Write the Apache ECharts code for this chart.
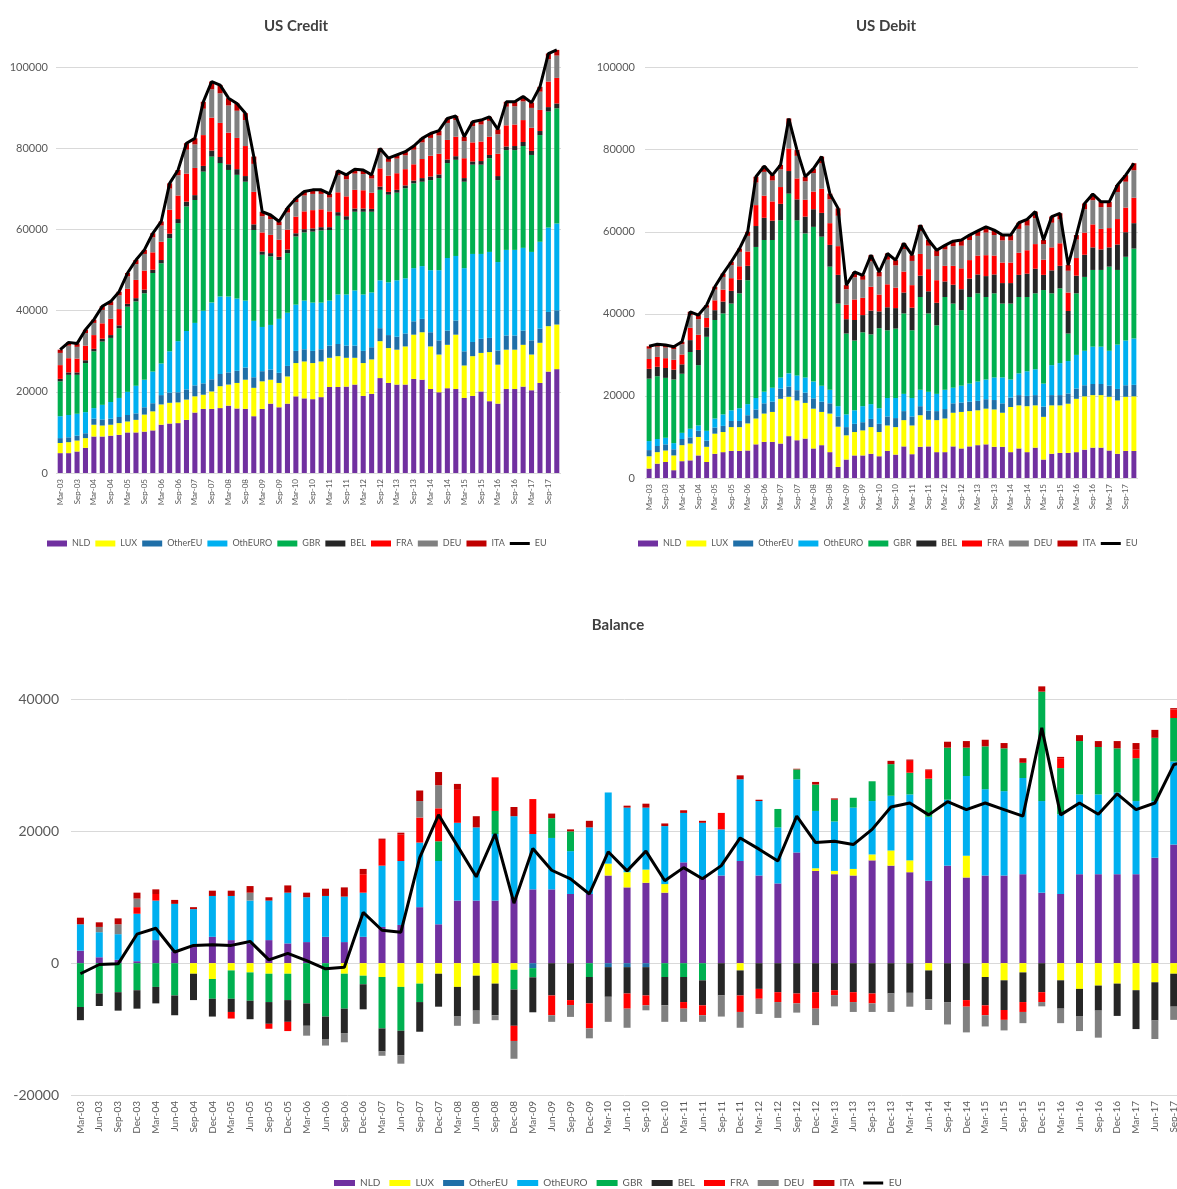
<!DOCTYPE html>
<html>
<head>
<meta charset="utf-8">
<title>US Credit / US Debit / Balance</title>
<script src="https://cdn.jsdelivr.net/npm/echarts/dist/echarts.min.js"></script>
<style>
  html, body { margin: 0; padding: 0; background: #fff; }
  #main { width: 1177px; height: 1189px; }
</style>
</head>
<body>
<div id="main"></div>
<script>
// quarters, Mar-03 .. Dec-17
var quarters = ['Mar-03','Jun-03','Sep-03','Dec-03','Mar-04','Jun-04','Sep-04','Dec-04','Mar-05','Jun-05',
  'Sep-05','Dec-05','Mar-06','Jun-06','Sep-06','Dec-06','Mar-07','Jun-07','Sep-07','Dec-07',
  'Mar-08','Jun-08','Sep-08','Dec-08','Mar-09','Jun-09','Sep-09','Dec-09','Mar-10','Jun-10',
  'Sep-10','Dec-10','Mar-11','Jun-11','Sep-11','Dec-11','Mar-12','Jun-12','Sep-12','Dec-12',
  'Mar-13','Jun-13','Sep-13','Dec-13','Mar-14','Jun-14','Sep-14','Dec-14','Mar-15','Jun-15',
  'Sep-15','Dec-15','Mar-16','Jun-16','Sep-16','Dec-16','Mar-17','Jun-17','Sep-17','Dec-17'];

// ---- US Credit ----
var credNLD = [4900,4900,5300,6200,9000,9000,9200,9400,10000,10000,
  10200,10500,11900,12200,12300,13100,14900,15800,15800,16000,
  16600,15900,15800,14000,15800,17100,16200,17100,18900,18400,
  18200,18700,21200,21200,21300,21800,19000,19500,23400,22200,
  21800,21800,23200,23000,20700,19900,20900,20700,18500,19000,
  20100,17700,17100,20700,20700,21300,20400,22200,25000,25600];
var credLUX = [2500,2700,2700,2400,2900,2700,2700,2900,2700,3100,
  4200,4700,5000,5100,5100,5000,4000,3500,4300,5400,
  5200,6300,7200,7000,6800,5900,6000,6700,8200,9100,
  8900,8800,7200,7600,7100,6600,8100,8500,9100,8600,
  8600,9400,10900,11700,10500,9300,10700,13400,8000,9800,
  9500,12100,9600,9700,9700,10300,8800,9900,11200,11000];
var credOtherEU = [1200,1200,1200,1200,1500,1500,1500,1500,1600,1600,
  1800,2000,2300,2500,2500,2500,2700,2800,3000,3000,
  3000,3000,3000,2600,2500,2500,2500,2600,3000,3000,
  3000,3000,3000,3000,3000,3000,3000,3000,3200,3200,
  3200,3200,3300,3300,3500,3500,3500,3500,3500,3500,
  3500,3500,3500,3500,3500,3500,3500,3500,3500,3500];
var credOthEURO = [5400,5500,5400,5200,2600,3600,4100,4700,5700,6800,
  6800,7800,7800,10200,12600,14400,15400,17900,18900,19100,
  18700,17800,16500,13900,10900,11000,13300,13100,11400,12000,
  11900,11500,11100,12200,12600,13600,13900,13500,11800,13000,
  13900,13600,13100,13000,15300,17300,17900,15900,20500,21700,
  20900,21200,21800,21100,21100,20400,21800,21400,20800,21400];
var credGBR = [8600,9900,9600,12100,14000,15600,15800,17200,21000,20800,
  21300,24300,24700,27900,29100,30700,30300,34300,36000,32900,
  31200,30500,29300,22400,17800,16900,14500,14700,16800,16800,
  17500,17800,17400,19400,18400,19400,20400,19900,22300,21600,
  21600,22200,20900,20800,22200,22700,23400,23700,21300,22000,
  22000,23100,20200,24600,24600,25100,23900,26300,28600,28400];
var credBEL = [600,600,600,700,600,700,700,700,700,800,
  900,800,800,1100,1000,1200,1200,1400,1500,1500,
  1400,1400,1400,1400,800,800,800,900,800,800,
  800,800,700,900,900,800,800,700,800,700,
  700,700,700,900,900,900,900,900,900,800,
  900,800,1000,900,1000,1000,1000,1000,1100,1200];
var credFRA = [3400,3500,3400,3600,3400,3800,4000,4000,3700,4500,
  4700,4300,4500,5900,5800,6900,6700,7600,8100,8400,
  7800,7700,7400,8000,4700,4500,4200,4900,4100,4400,
  4500,4400,3900,4900,4900,4600,4500,4000,4500,4000,
  4100,4000,4000,4700,5100,5100,4800,4800,4900,4700,
  4800,4500,5500,5200,5300,5400,5700,5200,6300,6300];
var credDEU = [3000,3100,2900,3100,3000,3300,3400,3400,3100,3900,
  4100,3700,4000,5200,5000,5900,5800,6500,7000,7300,
  6700,6700,6400,6900,4000,3900,3600,4200,3600,3900,
  4000,3800,3400,4200,4200,4000,4000,3500,3900,3400,
  3600,3400,3600,4100,4400,4500,4200,4100,4200,4000,
  4200,3900,4800,4600,4500,4600,4900,4500,5500,5500];
var credITA = [800,800,800,800,800,900,900,900,800,1000,
  1000,1000,1000,1300,1300,1600,1500,1700,1900,2000,
  1800,1800,1700,1800,1100,1000,900,1100,900,1000,
  1000,1000,900,1100,1100,1100,1000,900,1000,900,
  900,900,900,1000,1100,1200,1100,1000,1100,1100,
  1100,1000,1200,1200,1100,1200,1300,1200,1400,1400];
var credEU = [30400,32200,31900,35300,37800,41100,42300,44700,49300,52500,
  55000,59100,62000,71400,74700,81300,82500,91500,96500,95600,
  92400,91100,88700,78000,64400,63600,62000,65300,67700,69400,
  69800,69800,68800,74500,73500,74900,74700,73500,80000,77600,
  78400,79200,80600,82500,83700,84400,87400,88000,82900,86600,
  87000,87800,84700,91500,91500,92800,91300,95200,103400,104300];

// ---- US Debit ----
var debNLD = [2300,3500,3900,1900,4100,4300,5500,3900,5900,6300,
  6600,6600,6700,8200,8800,8800,8400,10200,9200,9600,
  7200,8000,6300,2700,4500,5500,5500,5900,5300,6600,
  5700,7700,5800,7600,7700,6300,6300,7700,7200,7700,
  8000,8200,7600,7600,6300,7200,6300,7400,4500,5900,
  6100,6100,6300,6900,7400,7400,6700,5900,6600,6600];
var debLUX = [3000,2800,2800,3600,3900,4100,4500,3700,4900,4900,
  5800,5800,6600,6300,6900,7300,10900,9600,9700,8700,
  9700,8100,9400,9800,5900,5700,6100,6500,5900,6200,
  6700,6400,7000,7700,6500,7800,8200,8200,8900,8600,
  8500,8700,9100,8300,11000,10500,11200,10300,10400,11800,
  11600,12000,13000,13000,12800,12800,13100,13000,13200,13300];
var debOtherEU = [1500,1500,1500,1500,1500,1500,1500,1500,1500,1500,
  1500,1500,2000,2200,2500,2500,2500,2500,2500,2500,
  2500,2500,2500,2500,2000,2000,2000,2000,2000,2200,
  2200,2200,2200,2200,2200,2200,2300,2300,2300,2300,
  2300,2300,2300,2300,2300,2500,2500,2500,2500,2500,
  2500,2500,2500,2700,2700,2700,2700,2800,2800,2800];
var debOthEURO = [2200,1700,1600,1500,1500,2100,1300,2400,2200,2800,
  2600,3100,2700,2800,2800,3400,2700,3200,3600,3700,
  4100,3900,3300,2500,3100,3300,3900,3600,3800,4500,
  4900,4200,4500,4000,4600,4200,4700,3800,4100,4400,
  4700,4800,5500,6300,4400,5300,6000,6300,5600,7300,
  7800,7900,8200,8400,9100,9100,8500,10800,10900,11300];
var debGBR = [15200,15300,14600,15500,14400,18700,14700,22900,24000,24600,
  26000,28000,30200,36800,37000,36000,38300,43800,37800,35100,
  37700,36300,30000,25000,19700,17000,18000,17000,19500,16500,
  16900,19600,16500,22600,19100,16700,22600,20500,18400,21100,
  21500,20100,20500,18000,18500,18600,18100,18500,22800,17500,
  18200,6700,15000,18000,18700,18700,20500,18200,20400,21900];
var debBEL = [2400,2300,2400,2400,2300,2900,3700,2300,2400,2900,
  3100,3300,3500,5100,5400,4700,4000,5500,5100,4100,
  4300,5800,5300,7000,3500,5000,4200,5800,4100,5600,
  5000,5100,5500,5200,5400,5500,3800,4600,5100,4500,
  4600,5100,4600,5000,5000,5400,5700,6000,3700,5600,
  5500,5500,4300,5400,5500,5000,4700,6200,6000,6200];
var debFRA = [2400,2400,2400,2400,2400,3000,3700,2300,2400,2900,
  3100,3300,3500,5100,5400,4700,4100,5500,5100,4100,
  4300,5900,5300,7000,3500,5000,4200,5800,4100,5600,
  5000,5100,5500,5300,5400,5500,3800,4600,5100,4500,
  4600,5100,4600,5000,5000,5400,5700,6000,3700,5600,
  5500,4500,4300,5400,5600,5000,4700,6200,6000,6200];
var debDEU = [2500,2500,2600,2600,2500,3100,3800,2500,2600,3100,
  3200,3500,3800,5500,5800,5100,4300,5800,5500,4500,
  4500,6200,5800,7400,3800,5400,4400,6200,4400,6000,
  5400,5500,5900,5600,5700,5900,4000,4800,5500,4900,
  4800,5500,5000,5400,5400,5800,6000,6300,3800,6000,
  5800,5300,4500,5700,5900,5300,5100,6600,6300,6700];
var debITA = [600,600,600,600,600,800,1000,600,700,800,
  800,800,1000,1400,1400,1300,1100,1500,1400,1100,
  1100,1600,1400,1800,1000,1300,1100,1500,1100,1500,
  1300,1400,1400,1400,1400,1400,1000,1200,1400,1200,
  1200,1400,1200,1300,1300,1500,1500,1600,1000,1500,
  1500,1400,1100,1400,1500,1300,1300,1700,1600,1700];
var debEU = [32100,32600,32400,32000,33200,40500,39700,42100,46600,49800,
  52700,55900,60000,73400,76000,73800,76300,87600,79900,73400,
  75400,78300,69300,65700,47000,50200,49400,54300,50200,54700,
  53100,57200,54300,61600,58000,55500,56700,57700,58000,59200,
  60200,61200,60400,59200,59200,62200,63000,64900,58000,63700,
  64500,51900,59200,66900,69200,67300,67300,71400,73800,76700];

// ---- Balance ----
var balNLD = [1900,900,500,300,3500,1800,2500,4000,3500,3000,
  3500,3000,3200,4000,3200,4000,5500,5800,8500,5900,
  9500,9500,9500,10000,11200,11200,10500,10500,13300,11500,
  12200,10700,15300,13000,13300,15500,13300,12100,16800,14000,
  13500,13300,15600,14800,13800,12500,14800,13000,13300,13300,
  13500,10700,10500,13500,13500,13500,13500,16000,18000,18500];
var balLUX = [0,0,0,0,0,0,-1600,-2400,-1100,-1400,
  -1600,-1600,0,0,-1600,-1900,-2100,-3600,-3100,-1600,
  -3600,-1900,-3100,-1000,0,0,0,0,1800,2300,
  2000,1300,0,0,0,-1100,0,0,0,400,
  500,1000,900,2300,1800,-1100,0,3300,-2100,-2600,
  -1400,0,-2600,-3900,-3400,-3100,-4100,-2900,-1600,-1500];
var balOtherEU = [0,0,0,0,0,0,0,0,0,0,
  0,0,0,0,0,0,0,0,0,0,
  0,0,0,0,-750,0,0,0,-600,-600,
  -600,0,0,0,0,0,0,0,0,0,
  0,0,0,0,0,0,0,0,0,0,
  0,0,0,0,0,0,0,0,0,0];
var balOthEURO = [4000,3800,3900,7200,6000,7200,5700,6200,6700,6500,
  6000,7700,6800,6200,6900,6700,9300,9700,9800,9600,
  11800,11100,10100,12300,8400,7800,6500,10100,10800,9800,
  9400,8800,7500,8300,7000,12400,11300,8500,11100,8700,
  7500,9300,8100,8300,10000,9700,10000,12100,13100,12800,
  14600,13900,12100,12100,12100,12400,11100,8600,12600,11000];
var balGBR = [-6650,-4600,-4400,-4100,-3600,-4900,0,-3000,-4300,-4300,
  -4300,-4000,-6100,-8100,-5300,-1300,-7800,-6650,-2800,3000,
  0,0,3500,-3000,-1400,3000,3000,-2100,0,0,
  0,-2100,-2100,-2600,0,0,0,2800,1500,4000,
  3300,1500,3000,4800,3300,5800,7900,4300,6500,6500,
  2300,16600,7000,8100,7200,6700,6500,9600,6600,8000];
var balBEL = [-2000,-1900,-2800,-2800,-2500,-3000,-4000,-2700,-2000,-2800,
  -3300,-3300,-3400,-3400,-3700,-3800,-3500,-3700,-4500,-5000,
  -4500,-5300,-4800,-5500,-5300,-4900,-5600,-4000,-4500,-4000,
  -4300,-4300,-3800,-3800,-4900,-3800,-3900,-4400,-4600,-4400,
  -4100,-4400,-4600,-4600,-4500,-4400,-5900,-5600,-4300,-4500,
  -4500,-4400,-4300,-4200,-3800,-4900,-5900,-5800,-5000,-5000];
var balFRA = [0,0,0,1000,1000,0,0,0,-1000,0,
  -750,-1400,0,0,0,2800,3900,4000,3800,5000,
  5000,0,5100,-2300,5300,-3000,-750,-3800,0,-2300,
  -1500,0,-1000,-1500,2500,-2500,-1500,-1500,-1500,-2500,
  -750,-1500,-1500,0,1800,1300,0,-1000,-1500,-1500,
  -1500,-1500,1500,0,0,0,1300,0,1300,800];
var balDEU = [0,800,1500,1300,0,0,0,0,0,1200,
  0,0,-1500,-1000,-1400,0,-650,-1300,2500,3500,
  -1400,-2000,-750,-2700,0,-1000,-1800,-1500,-3800,-2900,
  -750,-2500,-2000,-1000,-3200,-2400,-2300,-2400,-1400,-2500,
  -1700,-1500,-1300,-2800,-2100,-1600,-3400,-3900,-1700,-1600,
  -1700,-650,-2200,-2200,-4100,0,0,-2800,-2000,-2000];
var balITA = [1000,700,900,900,700,600,300,800,800,1000,
  500,1100,700,1100,1400,800,200,300,1600,2000,
  900,1700,0,1400,0,700,300,1000,0,300,
  600,400,400,300,0,600,200,0,100,400,
  200,0,0,500,200,100,900,1000,1000,800,
  700,800,200,900,900,1100,1000,1200,200,500];
var balEU = [-1600,-200,-100,4400,5300,1700,2700,2800,2700,3300,
  500,1500,400,-850,-600,7700,5000,4700,16000,22500,
  17800,13100,19600,9100,17400,14100,12800,10500,16900,14000,
  17000,12500,14500,12800,14800,19000,17300,15500,22300,18300,
  18500,18000,20300,23700,24300,22500,24500,23300,24300,23300,
  22300,35700,22500,24300,22600,25700,23300,24300,30100,31000];

var names = ['NLD','LUX','OtherEU','OthEURO','GBR','BEL','FRA','DEU','ITA'];
var colors = ['#7030A0','#FFFF00','#1F6FA8','#00B0F0','#00B050','#262626','#FF0000','#808080','#C00000'];

var creditData = [credNLD, credLUX, credOtherEU, credOthEURO, credGBR, credBEL, credFRA, credDEU, credITA];
var debitData = [debNLD, debLUX, debOtherEU, debOthEURO, debGBR, debBEL, debFRA, debDEU, debITA];
var balanceData = [balNLD, balLUX, balOtherEU, balOthEURO, balGBR, balBEL, balFRA, balDEU, balITA];

var FONT = 'Lato, "Open Sans", sans-serif';
var TXT = '#595959';
var GRIDC = '#d9d9d9';
// thin black strip in a 20x6 box, for the EU line legend entry
var LINE_ICON = 'path://M0,0 M20,6 M0,1.5 L20,1.5 L20,4.5 L0,4.5 Z';

var chart = echarts.init(document.getElementById('main'), null, {renderer: 'canvas'});

var series = [];
function addChart(data, line, idx, stack, barWidth) {
  for (var i = 0; i < names.length; i++) {
    series.push({
      name: names[i], type: 'bar', stack: stack,
      xAxisIndex: idx, yAxisIndex: idx,
      barWidth: barWidth,
      itemStyle: {color: colors[i]},
      data: data[i]
    });
  }
  series.push({
    name: 'EU', type: 'line', xAxisIndex: idx, yAxisIndex: idx,
    symbol: 'none', z: 5,
    itemStyle: {color: '#000'},
    lineStyle: {color: '#000', width: 3},
    data: line
  });
}
addChart(creditData, credEU, 0, 'credit', '60%');
addChart(debitData, debEU, 1, 'debit', '60%');
addChart(balanceData, balEU, 2, 'balance', 7);

function legendData() {
  var d = names.map(function (n) { return {name: n, icon: 'rect'}; });
  d.push({name: 'EU', icon: LINE_ICON});
  return d;
}
function legend(left, top, fs, iw, gap, w) {
  return {
    left: left, top: top, orient: 'horizontal', width: w,
    itemWidth: iw, itemHeight: 6, itemGap: gap,
    textStyle: {fontSize: fs, color: TXT, fontFamily: FONT},
    data: legendData(), selectedMode: false
  };
}
function plain(v) { return String(v); }
function yAxis(idx, min, max, fs, margin) {
  return {
    type: 'value', gridIndex: idx, min: min, max: max, interval: 20000,
    axisLine: {show: false}, axisTick: {show: false},
    axisLabel: {fontSize: fs, color: TXT, fontFamily: FONT, margin: margin,
      showMaxLabel: false, formatter: plain},
    splitLine: {lineStyle: {color: GRIDC, width: 1}, showMaxLine: false}
  };
}
function xAxis(idx, fs, interval) {
  return {
    type: 'category', gridIndex: idx, data: quarters,
    axisLine: {show: false, onZero: false}, axisTick: {show: false},
    axisLabel: {rotate: 90, fontSize: fs, color: TXT, fontFamily: FONT, interval: interval, margin: 6}
  };
}

var option = {
  animation: false,
  backgroundColor: '#fff',
  title: [
    {text: 'US Credit', left: 291, top: 14, textAlign: 'center',
      textStyle: {fontSize: 15, fontWeight: 'bold', color: '#404040', fontFamily: FONT}},
    {text: 'US Debit', left: 881, top: 14, textAlign: 'center',
      textStyle: {fontSize: 15, fontWeight: 'bold', color: '#404040', fontFamily: FONT}},
    {text: 'Balance', left: 613, top: 613, textAlign: 'center',
      textStyle: {fontSize: 15, fontWeight: 'bold', color: '#404040', fontFamily: FONT}}
  ],
  legend: [
    legend(42, 534, 9, 20, 5, 540),
    legend(633, 534, 9, 20, 5, 540),
    legend(329, 1173, 10, 21, 9, 800)
  ],
  grid: [
    {left: 56, top: 43, width: 505, height: 430, outerBoundsMode: 'none'},
    {left: 645, top: 43, width: 493, height: 435, outerBoundsMode: 'none'},
    {left: 71, top: 660, width: 1131, height: 435, outerBoundsMode: 'none'}
  ],
  xAxis: [xAxis(0, 8, 1), xAxis(1, 8, 1), xAxis(2, 10, 0)],
  yAxis: [
    yAxis(0, 0, 106000, 11, 8),
    yAxis(1, 0, 106000, 11, 10),
    yAxis(2, -20000, 46000, 14, 12)
  ],
  series: series
};
chart.setOption(option);
</script>
</body>
</html>
